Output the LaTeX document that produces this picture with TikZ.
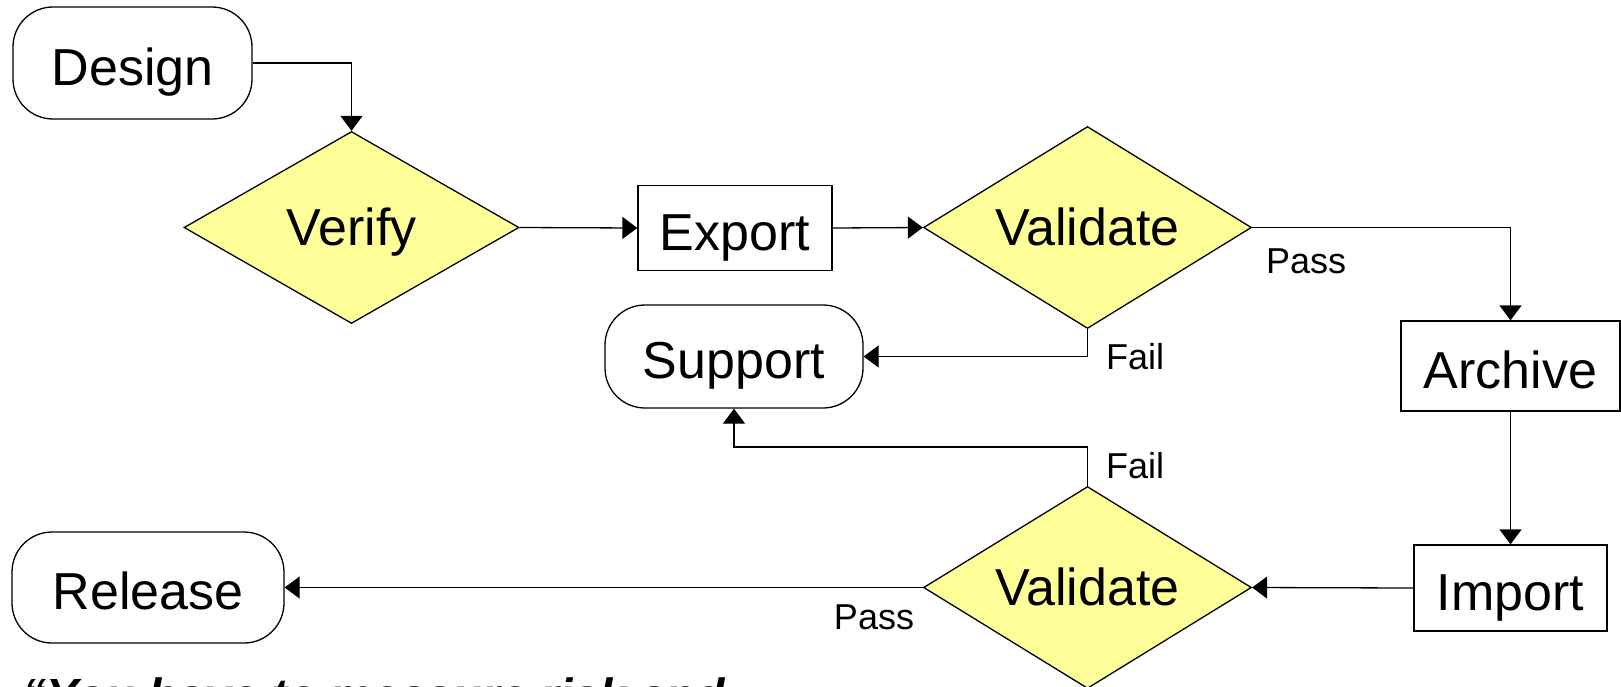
\documentclass[tikz,border=0pt]{standalone}
\usepackage{fontspec}
\setmainfont{Liberation Sans}
\usetikzlibrary{shapes.geometric,arrows.meta}

\definecolor{decisionfill}{HTML}{FFFF99}

\tikzset{
  base/.style={draw=black, line width=1.3pt, inner sep=0pt, text depth=0pt,
    font=\fontsize{52}{60}\selectfont},
  terminal/.style={base, rectangle, rounded corners=40pt, text height=44pt},
  process/.style={base, rectangle, text height=44pt},
  decision/.style={base, diamond, fill=decisionfill, text height=35pt},
  flow/.style={line width=1.3pt, -{Triangle[length=15pt,width=22pt]}},
  tag/.style={font=\fontsize{36}{42}\selectfont, inner sep=0pt}
}

\begin{document}
\begin{tikzpicture}[x=1pt, y=-1pt]
\useasboundingbox (0,0) rectangle (1621,686);
\clip (0,0) rectangle (1621,686);

% process steps
\node[terminal, minimum width=239pt, minimum height=112pt] (design)  at (132.5,63)  {Design};
\node[decision, aspect=1.745, minimum width=335pt, minimum height=192pt] (verify) at (351.5,227.5) {Verify};
\node[process,  minimum width=194pt, minimum height=85pt]  (export)  at (735,228)   {Export};
\node[decision, aspect=1.62, minimum width=328pt, minimum height=202pt] (valA) at (1087.5,227.5) {Validate};
\node[terminal, minimum width=258pt, minimum height=103pt] (support) at (734,356.5)  {Support};
\node[process,  minimum width=219pt, minimum height=90pt]  (archive) at (1510.5,366) {Archive};
\node[process,  minimum width=193pt, minimum height=86pt]  (import)  at (1510.5,588) {Import};
\node[decision, aspect=1.62, minimum width=328pt, minimum height=202pt] (valB) at (1087.5,587.5) {Validate};
\node[terminal, minimum width=272pt, minimum height=111pt] (release) at (148,587.5)  {Release};

% connectors
\draw[flow] (design.east) -| (verify.north);
\draw[flow] (verify.east) -- (export.west);
\draw[flow] (export.east) -- (valA.west);
\draw[flow] (valA.east) -| (archive.north);
\draw[flow] (archive.south) -- (import.north);
\draw[flow] (import.west) -- (valB.east);
\draw[flow] (valB.west) -- (release.east);
\draw[flow] (valA.south) |- (support.east);
\coordinate (failturn) at (1087.5,447);
\draw[flow] (valB.north) -- (failturn) -| (support.south);

% branch labels
\node[tag] (passA) at (1306,261) {Pass};
\node[tag] (failA) at (1135,357) {Fail};
\node[tag] (failB) at (1135,466) {Fail};
\node[tag] (passB) at (874,617)  {Pass};

% quotation running off the lower edge
\node[anchor=base west, inner sep=0pt, font=\fontsize{48}{56}\selectfont\bfseries\itshape] (quote) at (22,712)
  {“You have to measure risk and};
\end{tikzpicture}
\end{document}
